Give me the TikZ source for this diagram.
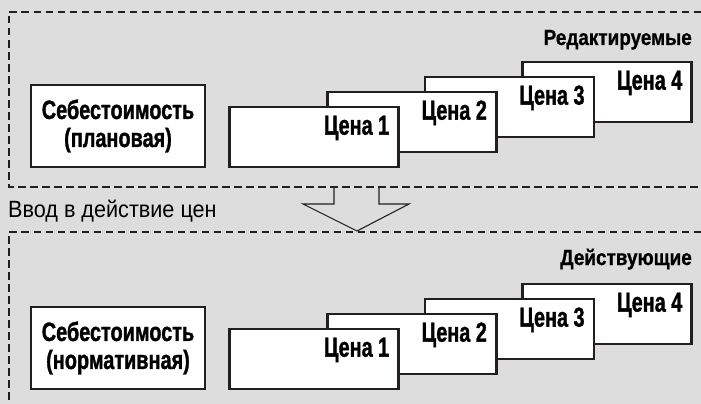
\documentclass[tikz,border=0pt]{standalone}
\usepackage{fontspec}
\setmainfont{Liberation Sans}
\newfontfamily\cnfont{Liberation Sans}[FakeStretch=0.75, FakeBold=1.2]
\newfontfamily\prfont{Liberation Sans}[FakeStretch=0.72, FakeBold=1.2]
\newfontfamily\lbfont{Liberation Sans}[FakeStretch=0.86, FakeBold=0.8]
\newfontfamily\nrfont{Liberation Sans}[FakeStretch=0.92]
\usetikzlibrary{calc}
\definecolor{panelgray}{HTML}{DDDDDD}
\definecolor{ink}{HTML}{231F20}
\tikzset{
  costbox/.style={draw=ink, line width=2.7pt, fill=white, minimum width=174pt, minimum height=82pt, inner sep=0pt, align=center, font=\cnfont\bfseries\fontsize{26.5}{28}\selectfont},
  pricebox/.style={draw=ink, line width=2.7pt, fill=white, minimum width=169pt, minimum height=60pt, inner sep=0pt},
  pricetext/.style={anchor=base east, inner sep=0pt, font=\prfont\bfseries\fontsize{27.5}{29}\selectfont},
  paneltext/.style={anchor=base east, inner sep=0pt, font=\lbfont\bfseries\fontsize{22}{24}\selectfont},
  panelline/.style={draw=ink, line width=1.8pt, dash pattern=on 7.5pt off 4.5pt},
}
\newcommand{\pricerow}[2]{\foreach \i in {4,3,2,1} {
    \node[pricebox] (#2\i) at ({314+97.7*(\i-1)}, {#1+137-15*(\i-1)}) {};
    \node[pricetext] (#2text\i) at ($(#2\i.north east)+(-10.5,29)$) {Цена \i};}}

\begin{document}
\begin{tikzpicture}[x=1pt, y=-1pt]
        \useasboundingbox (0,0) rectangle (701,404);
        \fill[panelgray] (0,0) rectangle (701,404);
        %panels
        \draw[panelline] (701,12) -- (9,12) -- (9,187) -- (701,187);
        \draw[panelline] (701,232) -- (9,232) -- (9,404);
        \node[paneltext] (editlabel) at (692,45) {Редактируемые};
        \node[paneltext] (activelabel) at (692,265) {Действующие};

        \node[costbox] (costplan) at (118,126) {Себестоимость\\(плановая)};
        \node[costbox] (costnorm) at (118,348) {Себестоимость\\(нормативная)};
        \pricerow{0}{plan}
        \pricerow{222}{norm}

        %arrow
        \draw[ink, line width=1.1pt] (334,187) -- (334,204) -- (303,204) -- (357,231) -- (409,204) -- (379,204) -- (379,187);
        \node[anchor=base west, inner sep=0pt, font=\nrfont\fontsize{23.5}{26}\selectfont] (enact) at (8,217) {Ввод в действие цен};
\end{tikzpicture}
\end{document}
